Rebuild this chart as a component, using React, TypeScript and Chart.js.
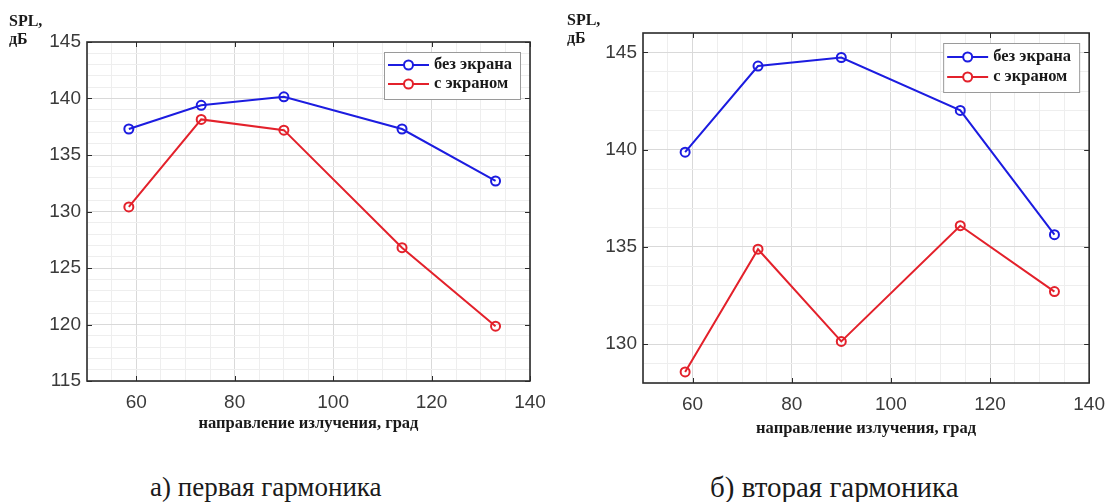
import React, { useEffect, useRef } from 'react';
import { Chart, registerables } from 'chart.js';

Chart.register(...registerables);

// ---- data ----
const angles = [58.5, 73.2, 90, 114, 133];
const seriesLabels = ['без экрана', 'с экраном'];
const harm1NoScreen = [137.3, 139.4, 140.15, 137.3, 132.7];
const harm1Screen = [130.4, 138.15, 137.2, 126.8, 119.85];
const harm2NoScreen = [139.87, 144.3, 144.74, 142.02, 135.63];
const harm2Screen = [128.57, 134.88, 130.14, 136.09, 132.7];
const xMajorTicks = [60, 80, 100, 120, 140];
const yMajorLeft = [115, 120, 125, 130, 135, 140, 145];
const yMajorRight = [130, 135, 140, 145];
const xTitle = 'направление излучения, град';
const yTitleLines = ['SPL,', 'дБ'];
const captions = ['а) первая гармоника', 'б) вторая гармоника'];

const BLUE = '#1c1ce0';
const RED = '#e3212b';
const GRID_MAJOR = '#d9d9d9';
const GRID_MINOR = '#eeeeee';
const FRAME = '#2b2b2b';
const SANS = '"Liberation Sans", Arial, sans-serif';
const SERIF = '"Liberation Serif", "Times New Roman", serif';

function range(a: number, b: number, step: number) {
  const out: number[] = [];
  for (let v = a; v <= b + 1e-9; v += step) out.push(Math.round(v * 1000) / 1000);
  return out;
}

const framePlugin = {
  id: 'frameLegend',
  afterDraw(chart: any, _args: any, opts: any) {
    const { ctx, chartArea: a, scales } = chart;
    ctx.save();
    ctx.strokeStyle = FRAME;
    ctx.lineWidth = 1;
    const tl = 5;
    ctx.beginPath();
    for (const v of opts.xMajor) {
      const x = Math.round(scales.x.getPixelForValue(v)) + 0.5;
      ctx.moveTo(x, a.bottom); ctx.lineTo(x, a.bottom - tl);
      ctx.moveTo(x, a.top); ctx.lineTo(x, a.top + tl);
    }
    for (const v of opts.yMajor) {
      const y = Math.round(scales.y.getPixelForValue(v)) + 0.5;
      ctx.moveTo(a.left, y); ctx.lineTo(a.left + tl, y);
      ctx.moveTo(a.right, y); ctx.lineTo(a.right - tl, y);
    }
    ctx.stroke();
    ctx.lineWidth = 1.6;
    ctx.strokeRect(a.left, a.top, a.right - a.left, a.bottom - a.top);

    const lw = opts.legendW, lh = opts.legendH;
    const bx = a.right - 10 - lw;
    const by = a.top + opts.legendTop;
    ctx.fillStyle = '#ffffff';
    ctx.fillRect(bx, by, lw, lh);
    ctx.strokeStyle = '#9a9a9a';
    ctx.lineWidth = 1;
    ctx.strokeRect(bx + 0.5, by + 0.5, lw, lh);
    const rows = opts.legendRows;
    chart.data.datasets.forEach((ds: any, i: number) => {
      const y = by + rows[i];
      ctx.strokeStyle = ds.borderColor;
      ctx.lineWidth = 2;
      ctx.beginPath();
      ctx.moveTo(bx + 4, y);
      ctx.lineTo(bx + 45, y);
      ctx.stroke();
      ctx.beginPath();
      ctx.arc(bx + 24.5, y, 4.5, 0, Math.PI * 2);
      ctx.fillStyle = '#ffffff';
      ctx.fill();
      ctx.stroke();
      ctx.fillStyle = '#1a1a1a';
      ctx.font = `bold 16.5px ${SERIF}`;
      ctx.textBaseline = 'middle';
      ctx.textAlign = 'left';
      ctx.fillText(ds.label, bx + 50, y);
    });
    ctx.restore();
  },
};

type PanelProps = {
  noScreen: number[];
  screen: number[];
  yMin: number;
  yMax: number;
  yMajor: number[];
  width: number;
  height: number;
  padTop: number;
  padRight: number;
  yAxisWidth: number;
  xAxisHeight: number;
  xTitlePad: number;
  legendTop: number;
  legendH: number;
  legendRows: number[];
  left: number;
};

function Panel(p: PanelProps) {
  const ref = useRef<HTMLCanvasElement | null>(null);
  useEffect(() => {
    if (!ref.current) return;
    const xGrid = range(50, 140, 5);
    const yGrid = range(p.yMin, p.yMax, 1);
    const mk = (label: string, data: number[], color: string) => ({
      label,
      data: angles.map((x, i) => ({ x, y: data[i] })),
      borderColor: color,
      backgroundColor: '#ffffff',
      borderWidth: 2,
      pointRadius: 4.5,
      pointBorderWidth: 2,
      pointBackgroundColor: 'rgba(255,255,255,0)',
      pointBorderColor: color,
      tension: 0,
    });
    const chart = new Chart(ref.current, {
      type: 'line',
      data: {
        datasets: [
          mk(seriesLabels[0], p.noScreen, BLUE),
          mk(seriesLabels[1], p.screen, RED),
        ],
      },
      options: {
        animation: false,
        responsive: false,
        events: [],
        layout: { padding: { top: p.padTop, right: p.padRight, left: 0, bottom: 0 } },
        plugins: {
          legend: { display: false },
          tooltip: { enabled: false },
          frameLegend: {
            xMajor: xMajorTicks,
            yMajor: p.yMajor,
            legendW: 136,
            legendH: p.legendH,
            legendTop: p.legendTop,
            legendRows: p.legendRows,
          },
        } as any,
        scales: {
          x: {
            type: 'linear',
            min: 50,
            max: 140,
            afterBuildTicks: (s: any) => { s.ticks = xGrid.map((v) => ({ value: v })); },
            afterFit: (s: any) => { s.height = p.xAxisHeight; },
            grid: {
              drawTicks: false,
              color: (c: any) => (c.tick && c.tick.value % 20 === 0 ? GRID_MAJOR : GRID_MINOR),
              lineWidth: 1,
            },
            border: { display: false },
            ticks: {
              autoSkip: false,
              maxRotation: 0,
              padding: 10,
              color: '#3a3a3a',
              font: { family: SANS, size: 19 },
              callback: (v: any) => (Number(v) % 20 === 0 ? String(v) : ''),
            },
            title: {
              display: true,
              text: xTitle,
              color: '#1a1a1a',
              font: { family: SERIF, size: 16.5, weight: 'bold' },
              padding: { top: 0, bottom: p.xTitlePad },
            },
          },
          y: {
            type: 'linear',
            min: p.yMin,
            max: p.yMax,
            afterBuildTicks: (s: any) => { s.ticks = yGrid.map((v) => ({ value: v })); },
            afterFit: (s: any) => { s.width = p.yAxisWidth; },
            grid: {
              drawTicks: false,
              color: (c: any) => (c.tick && c.tick.value % 5 === 0 ? GRID_MAJOR : GRID_MINOR),
              lineWidth: 1,
            },
            border: { display: false },
            ticks: {
              autoSkip: false,
              padding: 6,
              color: '#3a3a3a',
              font: { family: SANS, size: 19 },
              callback: (v: any) => (Number(v) % 5 === 0 ? String(v) : ''),
            },
          },
        },
      },
      plugins: [framePlugin],
    } as any);
    return () => chart.destroy();
  }, []);
  return (
    <canvas
      ref={ref}
      width={p.width}
      height={p.height}
      style={{ position: 'absolute', left: p.left, top: 0, width: p.width, height: p.height }}
    />
  );
}

const textBold: React.CSSProperties = {
  position: 'absolute',
  fontFamily: SERIF,
  fontWeight: 'bold',
  fontSize: 16,
  lineHeight: '18px',
  color: '#1a1a1a',
  whiteSpace: 'pre',
};

const captionStyle: React.CSSProperties = {
  position: 'absolute',
  fontFamily: SERIF,
  lineHeight: '30px',
  color: '#1a1a1a',
  whiteSpace: 'pre',
};

export default function App() {
  return (
    <div style={{ position: 'absolute', left: 0, top: 0, width: 1115, height: 502, background: '#ffffff', overflow: 'hidden' }}>
      <Panel
        left={0}
        width={560}
        height={440}
        noScreen={harm1NoScreen}
        screen={harm1Screen}
        yMin={115}
        yMax={145}
        yMajor={yMajorLeft}
        padTop={42}
        padRight={30}
        yAxisWidth={87}
        xAxisHeight={59}
        xTitlePad={6}
        legendTop={10}
        legendH={47}
        legendRows={[13, 32]}
      />
      <Panel
        left={560}
        width={555}
        height={440}
        noScreen={harm2NoScreen}
        screen={harm2Screen}
        yMin={128}
        yMax={146}
        yMajor={yMajorRight}
        padTop={33}
        padRight={20}
        yAxisWidth={83}
        xAxisHeight={57}
        xTitlePad={1}
        legendTop={10}
        legendH={49}
        legendRows={[14, 34]}
      />
      <div style={{ ...textBold, left: 9, top: 12 }}>{yTitleLines.join('\n')}</div>
      <div style={{ ...textBold, left: 567, top: 11 }}>{yTitleLines.join('\n')}</div>
      <div style={{ ...captionStyle, fontSize: 27, left: 150, top: 472 }}>{captions[0]}</div>
      <div style={{ ...captionStyle, fontSize: 29, left: 710, top: 472 }}>{captions[1]}</div>
    </div>
  );
}
